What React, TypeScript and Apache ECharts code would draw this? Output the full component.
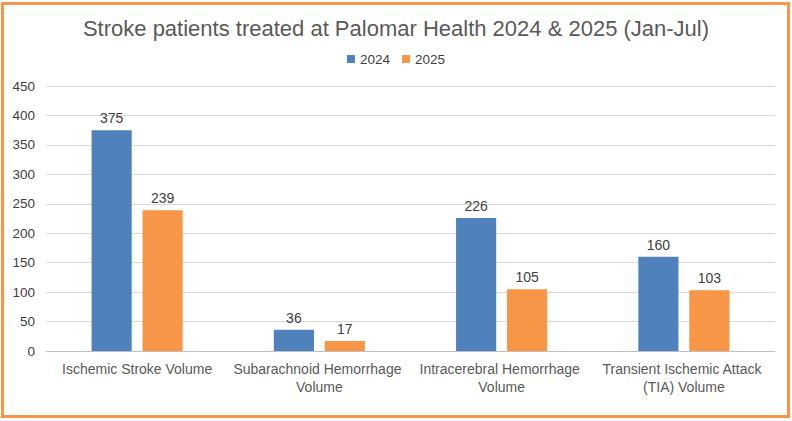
import React, { useEffect, useRef } from "react";
import * as echarts from "echarts";

const categories = [
  "Ischemic Stroke Volume",
  "Subarachnoid Hemorrhage Volume",
  "Intracerebral Hemorrhage Volume",
  "Transient Ischemic Attack (TIA) Volume",
];
const values2024 = [375, 36, 226, 160];
const values2025 = [239, 17, 105, 103];
const yTicks = { min: 0, max: 450, interval: 50 };

export default function App() {
  const ref = useRef<HTMLDivElement>(null);
  useEffect(() => {
    if (!ref.current) return;
    const chart = echarts.init(ref.current, null, { renderer: "svg" });
    const font = "'Liberation Sans', Arial, sans-serif";
    chart.setOption({
      animation: false,
      textStyle: { fontFamily: font },
      title: {
        text: "Stroke patients treated at Palomar Health 2024 & 2025 (Jan-Jul)",
        left: "center",
        top: 12,
        textStyle: { fontSize: 22, fontWeight: "normal", color: "#595959", fontFamily: font },
      },
      legend: {
        top: 47,
        left: "center",
        itemWidth: 8,
        itemHeight: 8,
        itemGap: 12,
        icon: "rect",
        textStyle: { fontSize: 13.5, color: "#404040", fontFamily: font },
        data: ["2024", "2025"],
      },
      grid: { left: 46, right: 17, top: 86, bottom: 70, containLabel: false },
      xAxis: {
        type: "category",
        data: categories,
        axisTick: { show: false },
        axisLine: { lineStyle: { color: "#BFBFBF" } },
        axisLabel: {
          interval: 0,
          fontSize: 14,
          color: "#595959",
          margin: 9,
          width: 178,
          overflow: "break",
          lineHeight: 18,
          fontFamily: font,
        },
      },
      yAxis: {
        type: "value",
        min: yTicks.min,
        max: yTicks.max,
        interval: yTicks.interval,
        axisLine: { show: false },
        axisTick: { show: false },
        splitLine: { lineStyle: { color: "#D9D9D9" } },
        axisLabel: { fontSize: 13.5, color: "#404040", margin: 11, fontFamily: font },
      },
      series: [
        {
          name: "2024",
          type: "bar",
          data: values2024,
          barGap: "27%",
          barCategoryGap: "50%",
          itemStyle: { color: "#4F81BD" },
          label: { show: true, position: "top", distance: 5, fontSize: 14, color: "#404040", fontFamily: font },
        },
        {
          name: "2025",
          type: "bar",
          data: values2025,
          itemStyle: { color: "#F79646" },
          label: { show: true, position: "top", distance: 5, fontSize: 14, color: "#404040", fontFamily: font },
        },
      ],
    });
    return () => chart.dispose();
  }, []);
  return (
    <div style={{ position: "fixed", left: 0, top: 0, width: 792, height: 421, background: "#fff" }}>
      <div
        style={{
          position: "absolute",
          left: 1,
          top: 2,
          width: 789,
          height: 416,
          border: "3px solid #F79646",
          boxSizing: "border-box",
        }}
      />
      <div ref={ref} style={{ position: "absolute", left: 0, top: 0, width: 792, height: 421 }} />
    </div>
  );
}
